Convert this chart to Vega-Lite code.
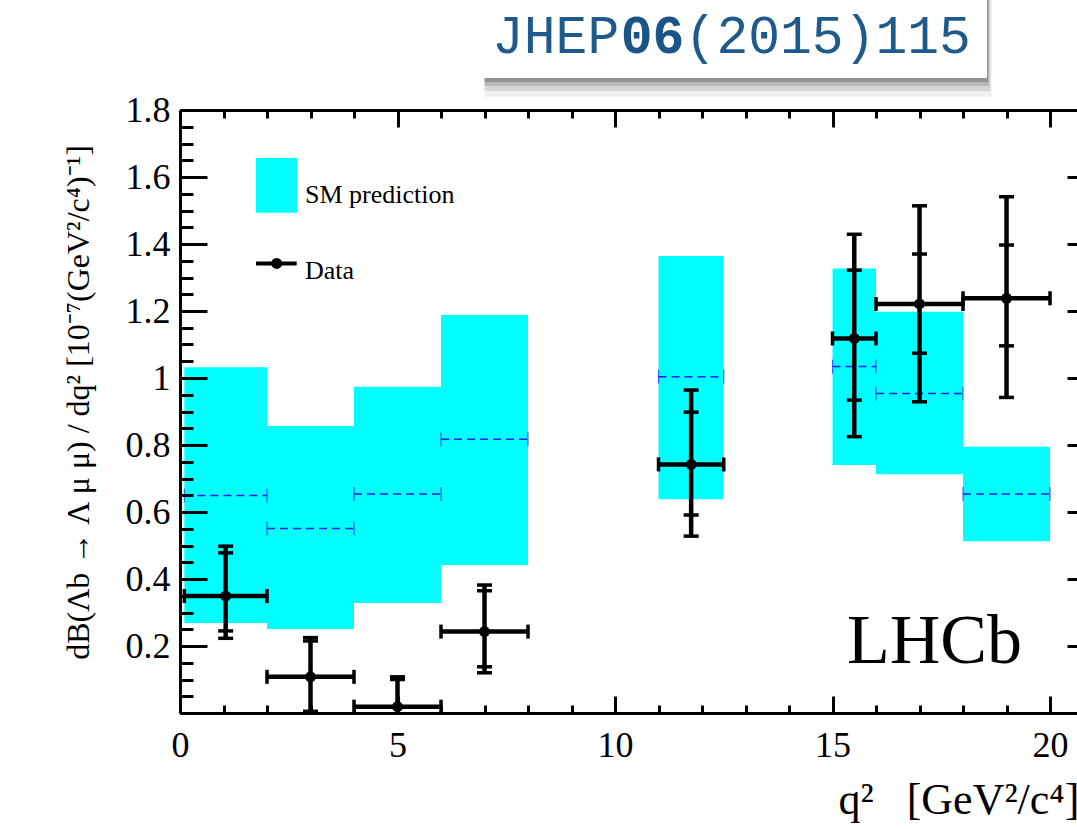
{
  "$schema": "https://vega.github.io/schema/vega-lite/v6.json",
  "width": 897,
  "height": 603,
  "autosize": {"type": "none"},
  "padding": {"left": 180, "top": 110, "right": 0, "bottom": 116},
  "background": "white",
  "config": {"view": {"stroke": null}, "font": "Liberation Serif"},
  "datasets": {
    "sm": [
      {"q2lo": 0.1, "q2hi": 2, "lo": 0.269, "hi": 1.032, "central": 0.649},
      {"q2lo": 2, "q2hi": 4, "lo": 0.251, "hi": 0.857, "central": 0.551},
      {"q2lo": 4, "q2hi": 6, "lo": 0.328, "hi": 0.974, "central": 0.654},
      {"q2lo": 6, "q2hi": 8, "lo": 0.442, "hi": 1.188, "central": 0.817},
      {"q2lo": 11, "q2hi": 12.5, "lo": 0.638, "hi": 1.364, "central": 1.004},
      {"q2lo": 15, "q2hi": 16, "lo": 0.74, "hi": 1.327, "central": 1.034},
      {"q2lo": 16, "q2hi": 18, "lo": 0.713, "hi": 1.198, "central": 0.954},
      {"q2lo": 18, "q2hi": 20, "lo": 0.513, "hi": 0.795, "central": 0.654}
    ],
    "lhcb": [
      {"q2": 1.05, "q2lo": 0.1, "q2hi": 2, "val": 0.349, "tot_lo": 0.223, "stat_lo": 0.245, "stat_hi": 0.478, "tot_hi": 0.498},
      {"q2": 3.0, "q2lo": 2, "q2hi": 4, "val": 0.108, "tot_lo": -0.01, "stat_lo": 0.005, "stat_hi": 0.215, "tot_hi": 0.225},
      {"q2": 5.0, "q2lo": 4, "q2hi": 6, "val": 0.019, "tot_lo": -0.05, "stat_lo": -0.03, "stat_hi": 0.1, "tot_hi": 0.108},
      {"q2": 7.0, "q2lo": 6, "q2hi": 8, "val": 0.243, "tot_lo": 0.12, "stat_lo": 0.138, "stat_hi": 0.365, "tot_hi": 0.382},
      {"q2": 11.75, "q2lo": 11, "q2hi": 12.5, "val": 0.742, "tot_lo": 0.528, "stat_lo": 0.591, "stat_hi": 0.898, "tot_hi": 0.964},
      {"q2": 15.5, "q2lo": 15, "q2hi": 16, "val": 1.118, "tot_lo": 0.825, "stat_lo": 0.934, "stat_hi": 1.322, "tot_hi": 1.429},
      {"q2": 17.0, "q2lo": 16, "q2hi": 18, "val": 1.221, "tot_lo": 0.929, "stat_lo": 1.074, "stat_hi": 1.37, "tot_hi": 1.514},
      {"q2": 19.0, "q2lo": 18, "q2hi": 20, "val": 1.238, "tot_lo": 0.942, "stat_lo": 1.096, "stat_hi": 1.397, "tot_hi": 1.541}
    ]
  },
  "layer": [
    {
      "data": {"name": "sm"},
      "mark": {"type": "rect", "color": "#00ffff", "strokeWidth": 0, "clip": true},
      "encoding": {
        "x": {
          "field": "q2lo", "type": "quantitative",
          "scale": {"domain": [0, 20.62], "nice": false, "zero": false},
          "axis": {
            "orient": "bottom",
            "values": [0,1,2,3,4,5,6,7,8,9,10,11,12,13,14,15,16,17,18,19,20],
            "tickSize": {"condition": {"test": "datum.value % 5 === 0", "value": -17}, "value": -8},
            "tickWidth": 3, "tickColor": "black",
            "domainWidth": 3, "domainColor": "black",
            "grid": false,
            "labelExpr": "datum.value % 5 === 0 ? format(datum.value, 'd') : ''",
            "labelFont": "Liberation Serif", "labelFontSize": 36, "labelColor": "black",
            "labelPadding": 32, "labelBaseline": "top", "labelFlush": false, "labelOverlap": false, "labelBound": false,
            "title": "q²\u00a0\u00a0\u00a0[GeV²/c⁴]",
            "titleFont": "Liberation Serif", "titleFontSize": 44, "titleFontWeight": "normal", "titleColor": "black",
            "titleX": 658, "titleY": 100, "titleAlign": "left", "titleBaseline": "alphabetic",
            "zindex": 1
          }
        },
        "x2": {"field": "q2hi"},
        "y": {
          "field": "lo", "type": "quantitative",
          "scale": {"domain": [0, 1.8], "nice": false, "zero": false},
          "axis": {
            "orient": "left",
            "values": [0,0.05,0.1,0.15,0.2,0.25,0.3,0.35,0.4,0.45,0.5,0.55,0.6,0.65,0.7,0.75,0.8,0.85,0.9,0.95,1,1.05,1.1,1.15,1.2,1.25,1.3,1.35,1.4,1.45,1.5,1.55,1.6,1.65,1.7,1.75,1.8],
            "tickSize": {"condition": {"test": "abs(datum.value*5 - round(datum.value*5)) < 0.001", "value": -27}, "value": -13},
            "tickWidth": 3, "tickColor": "black",
            "domainWidth": 3, "domainColor": "black",
            "grid": false,
            "labelExpr": "datum.value > 0.01 && abs(datum.value*5 - round(datum.value*5)) < 0.001 ? format(datum.value, '~g') : ''",
            "labelFont": "Liberation Serif", "labelFontSize": 36, "labelColor": "black",
            "labelPadding": 37, "labelBaseline": "middle", "labelFlush": false, "labelOverlap": false, "labelBound": false,
            "title": "dB(Λb → Λ μ μ) / dq² [10⁻⁷(GeV²/c⁴)⁻¹]",
            "titleFont": "Liberation Serif", "titleFontSize": 32, "titleFontWeight": "normal", "titleColor": "black",
            "titleAngle": -90, "titleX": -92, "titleY": 292, "titleAlign": "center", "titleBaseline": "alphabetic",
            "zindex": 1
          }
        },
        "y2": {"field": "hi"}
      }
    },
    {
      "data": {"name": "sm"},
      "mark": {"type": "rule", "stroke": "#1a1aff", "strokeWidth": 1.5, "strokeDash": [8, 5], "clip": true},
      "encoding": {
        "x": {
          "field": "q2lo", "type": "quantitative",
          "scale": {"domain": [0, 20.62], "nice": false, "zero": false},
          "axis": {
            "orient": "top",
            "values": [0,1,2,3,4,5,6,7,8,9,10,11,12,13,14,15,16,17,18,19,20],
            "tickSize": {"condition": {"test": "datum.value % 5 === 0", "value": -17}, "value": -8},
            "tickWidth": 3, "tickColor": "black",
            "domainWidth": 3, "domainColor": "black",
            "grid": false, "labels": false, "title": null, "zindex": 1
          }
        },
        "x2": {"field": "q2hi"},
        "y": {
          "field": "central", "type": "quantitative",
          "scale": {"domain": [0, 1.8], "nice": false, "zero": false},
          "axis": {
            "orient": "right",
            "values": [0.2,0.4,0.6,0.8,1,1.2,1.4,1.6],
            "tickSize": -10, "tickWidth": 3, "tickColor": "black",
            "domain": false, "grid": false, "labels": false, "title": null, "zindex": 1
          }
        }
      }
    },
    {
      "data": {"name": "sm"},
      "transform": [{"fold": ["q2lo", "q2hi"], "as": ["edgeName", "edge"]}],
      "mark": {"type": "tick", "orient": "vertical", "size": 14, "thickness": 1.2, "color": "#1a1aff", "opacity": 0.7, "clip": true},
      "encoding": {
        "x": {"field": "edge", "type": "quantitative", "axis": null},
        "y": {"field": "central", "type": "quantitative", "axis": null}
      }
    },
    {
      "data": {"name": "lhcb"},
      "mark": {"type": "rule", "color": "black", "strokeWidth": 4.5, "clip": true},
      "encoding": {
        "x": {"field": "q2lo", "type": "quantitative", "axis": null},
        "x2": {"field": "q2hi"},
        "y": {"field": "val", "type": "quantitative", "axis": null}
      }
    },
    {
      "data": {"name": "lhcb"},
      "mark": {"type": "rule", "color": "black", "strokeWidth": 4.5, "clip": true},
      "encoding": {
        "x": {"field": "q2", "type": "quantitative", "axis": null},
        "y": {"field": "tot_lo", "type": "quantitative", "axis": null},
        "y2": {"field": "tot_hi"}
      }
    },
    {
      "data": {"name": "lhcb"},
      "transform": [{"fold": ["tot_lo", "stat_lo", "stat_hi", "tot_hi"], "as": ["capName", "cap"]}],
      "mark": {"type": "tick", "orient": "horizontal", "size": 15, "thickness": 3.5, "color": "black", "opacity": 1, "clip": true},
      "encoding": {
        "x": {"field": "q2", "type": "quantitative", "axis": null},
        "y": {"field": "cap", "type": "quantitative", "axis": null}
      }
    },
    {
      "data": {"name": "lhcb"},
      "transform": [{"fold": ["q2lo", "q2hi"], "as": ["sideName", "side"]}],
      "mark": {"type": "tick", "orient": "vertical", "size": 14, "thickness": 3.5, "color": "black", "opacity": 1, "clip": true},
      "encoding": {
        "x": {"field": "side", "type": "quantitative", "axis": null},
        "y": {"field": "val", "type": "quantitative", "axis": null}
      }
    },
    {
      "data": {"name": "lhcb"},
      "mark": {"type": "circle", "color": "black", "size": 120, "opacity": 1, "clip": true},
      "encoding": {
        "x": {"field": "q2", "type": "quantitative", "axis": null},
        "y": {"field": "val", "type": "quantitative", "axis": null}
      }
    },
    {
      "data": {"values": [{}]},
      "mark": {"type": "rect", "color": "#00ffff", "strokeWidth": 0},
      "encoding": {
        "x": {"datum": 1.747, "type": "quantitative", "axis": null},
        "x2": {"datum": 2.69},
        "y": {"datum": 1.657, "type": "quantitative", "axis": null},
        "y2": {"datum": 1.493}
      }
    },
    {
      "data": {"values": [{}]},
      "mark": {"type": "text", "text": "SM prediction", "font": "Liberation Serif", "fontSize": 26, "color": "black", "align": "left", "baseline": "alphabetic"},
      "encoding": {
        "x": {"datum": 2.874, "type": "quantitative", "axis": null},
        "y": {"datum": 1.522, "type": "quantitative", "axis": null}
      }
    },
    {
      "data": {"values": [{}]},
      "mark": {"type": "rule", "color": "black", "strokeWidth": 4},
      "encoding": {
        "x": {"datum": 1.747, "type": "quantitative", "axis": null},
        "x2": {"datum": 2.683},
        "y": {"datum": 1.342, "type": "quantitative", "axis": null}
      }
    },
    {
      "data": {"values": [{}]},
      "mark": {"type": "circle", "color": "black", "size": 120, "opacity": 1},
      "encoding": {
        "x": {"datum": 2.223, "type": "quantitative", "axis": null},
        "y": {"datum": 1.342, "type": "quantitative", "axis": null}
      }
    },
    {
      "data": {"values": [{}]},
      "mark": {"type": "text", "text": "Data", "font": "Liberation Serif", "fontSize": 26, "color": "black", "align": "left", "baseline": "alphabetic"},
      "encoding": {
        "x": {"datum": 2.874, "type": "quantitative", "axis": null},
        "y": {"datum": 1.296, "type": "quantitative", "axis": null}
      }
    },
    {
      "data": {"values": [{}]},
      "mark": {"type": "text", "text": "LHCb", "font": "Liberation Serif", "fontSize": 70, "color": "black", "align": "left", "baseline": "alphabetic"},
      "encoding": {
        "x": {"datum": 15.33, "type": "quantitative", "axis": null},
        "y": {"datum": 0.149, "type": "quantitative", "axis": null}
      }
    },
    {
      "data": {"values": [{}]},
      "mark": {"type": "rect", "color": "black", "opacity": 0.06, "strokeWidth": 0},
      "encoding": {
        "x": {"datum": 7.0, "type": "quantitative", "axis": null},
        "x2": {"datum": 18.66},
        "y": {"datum": 2.2, "type": "quantitative", "axis": null},
        "y2": {"datum": 1.8388}
      }
    },
    {
      "data": {"values": [{}]},
      "mark": {"type": "rect", "color": "black", "opacity": 0.1, "strokeWidth": 0},
      "encoding": {
        "x": {"datum": 7.0, "type": "quantitative", "axis": null},
        "x2": {"datum": 18.63},
        "y": {"datum": 2.2, "type": "quantitative", "axis": null},
        "y2": {"datum": 1.8567}
      }
    },
    {
      "data": {"values": [{}]},
      "mark": {"type": "rect", "color": "black", "opacity": 0.15, "strokeWidth": 0},
      "encoding": {
        "x": {"datum": 7.0, "type": "quantitative", "axis": null},
        "x2": {"datum": 18.6},
        "y": {"datum": 2.2, "type": "quantitative", "axis": null},
        "y2": {"datum": 1.8716}
      }
    },
    {
      "data": {"values": [{}]},
      "mark": {"type": "rect", "color": "black", "opacity": 0.2, "strokeWidth": 0},
      "encoding": {
        "x": {"datum": 7.0, "type": "quantitative", "axis": null},
        "x2": {"datum": 18.58},
        "y": {"datum": 2.2, "type": "quantitative", "axis": null},
        "y2": {"datum": 1.8836}
      }
    },
    {
      "data": {"values": [{}]},
      "mark": {"type": "rect", "color": "white", "opacity": 1, "strokeWidth": 0},
      "encoding": {
        "x": {"datum": 6.966, "type": "quantitative", "axis": null},
        "x2": {"datum": 18.552},
        "y": {"datum": 2.2, "type": "quantitative", "axis": null},
        "y2": {"datum": 1.8955}
      }
    },
    {
      "data": {"values": [{}]},
      "mark": {"type": "text", "text": "JHEP", "font": "Liberation Mono", "fontSize": 53, "color": "#1e5a8c", "align": "left", "baseline": "alphabetic"},
      "encoding": {
        "x": {"datum": 7.172, "type": "quantitative", "axis": null},
        "y": {"datum": 1.97, "type": "quantitative", "axis": null}
      }
    },
    {
      "data": {"values": [{}]},
      "mark": {"type": "text", "text": "06", "font": "Liberation Mono", "fontSize": 53, "fontWeight": "bold", "color": "#1a5587", "align": "left", "baseline": "alphabetic"},
      "encoding": {
        "x": {"datum": 10.13, "type": "quantitative", "axis": null},
        "y": {"datum": 1.97, "type": "quantitative", "axis": null}
      }
    },
    {
      "data": {"values": [{}]},
      "mark": {"type": "text", "text": "(2015)115", "font": "Liberation Mono", "fontSize": 53, "color": "#1e5a8c", "align": "left", "baseline": "alphabetic"},
      "encoding": {
        "x": {"datum": 11.6, "type": "quantitative", "axis": null},
        "y": {"datum": 1.97, "type": "quantitative", "axis": null}
      }
    }
  ],
  "resolve": {"axis": {"x": "independent", "y": "independent"}}
}
